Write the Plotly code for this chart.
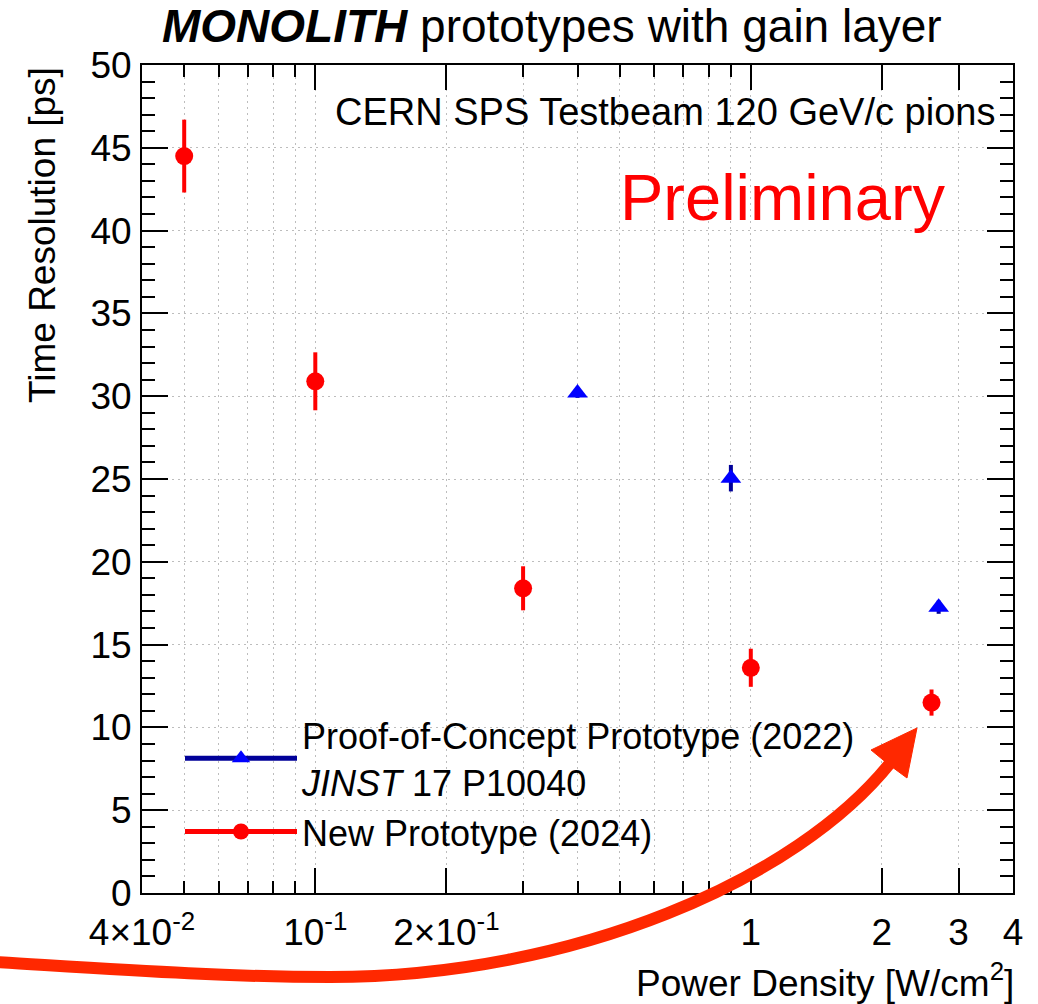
import plotly.graph_objects as go

# ---------------- data ----------------
new_x = [0.05, 0.1, 0.3, 1.0, 2.6]
new_y = [44.5, 30.9, 18.4, 13.6, 11.5]
new_err = [2.2, 1.75, 1.33, 1.15, 0.79]

poc_x = [0.4, 0.9, 2.7]
poc_y = [30.2, 25.05, 17.26]
poc_err = [0.3, 0.8, 0.4]

x_tickvals = [0.04, 0.1, 0.2, 1, 2, 3, 4]
x_ticktext = ["4×10<sup>-2</sup>", "10<sup>-1</sup>", "2×10<sup>-1</sup>", "1", "2", "3", "4"]
x_minorvals = [0.05, 0.06, 0.07, 0.08, 0.09, 0.3, 0.4, 0.5, 0.6, 0.7, 0.8, 0.9]
y_tickvals = [0, 5, 10, 15, 20, 25, 30, 35, 40, 45, 50]

FONT = "Liberation Sans, Arial, Helvetica, sans-serif"
RED = "#FF0000"
BLUE = "#0000FF"
NAVY = "#000099"
ARROW = "#FF2800"

W, H = 1038, 1004
ML, MR, MT, MB = 142, 25, 65, 111
PW, PH = W - ML - MR, H - MT - MB


def px(xp):
    return (xp - ML) / PW


def py(yp):
    return (H - MB - yp) / PH


def pt(a, b):
    return "%.5f,%.5f" % (px(a), py(b))


fig = go.Figure()

# data traces
fig.add_trace(go.Scatter(
    x=poc_x, y=poc_y, mode="markers", showlegend=False,
    marker=dict(symbol="triangle-up", size=18, color=BLUE),
    error_y=dict(type="data", array=poc_err, color=NAVY, thickness=4, width=0),
))
fig.add_trace(go.Scatter(
    x=new_x, y=new_y, mode="markers", showlegend=False,
    marker=dict(symbol="circle", size=18, color=RED),
    error_y=dict(type="data", array=new_err, color=RED, thickness=4, width=0),
))

# legend entries
fig.add_trace(go.Scatter(
    x=[None], y=[None], mode="lines+markers",
    name="Proof-of-Concept Prototype (2022)<br><i>JINST</i> 17 P10040",
    line=dict(color=NAVY, width=5),
    marker=dict(symbol="triangle-up", size=18, color=BLUE),
))
fig.add_trace(go.Scatter(
    x=[None], y=[None], mode="lines+markers",
    name="New Prototype (2024)",
    line=dict(color=RED, width=5),
    marker=dict(symbol="circle", size=18, color=RED),
))

grid = dict(showgrid=True, gridcolor="#BDBDBD", griddash="2px,4px", gridwidth=1.2)

fig.update_xaxes(
    type="log",
    range=[-1.39794, 0.60206],
    tickmode="array", tickvals=x_tickvals, ticktext=x_ticktext,
    ticks="inside", ticklen=25, tickwidth=2, tickcolor="black",
    showline=True, linecolor="black", linewidth=2, mirror="ticks",
    tickfont=dict(family=FONT, size=37, color="black"),
    ticklabelstandoff=6,
    zeroline=False,
    minor=dict(tickmode="array", tickvals=x_minorvals, ticks="inside",
               ticklen=12, tickwidth=2, tickcolor="black", **grid),
    **grid,
)
fig.update_yaxes(
    range=[0, 50],
    tickmode="array", tickvals=y_tickvals,
    ticks="inside", ticklen=26, tickwidth=2, tickcolor="black",
    showline=True, linecolor="black", linewidth=2, mirror="ticks",
    tickfont=dict(family=FONT, size=37, color="black"),
    ticklabelstandoff=1,
    zeroline=False,
    minor=dict(dtick=1, ticks="inside", ticklen=13, tickwidth=2,
               tickcolor="black", showgrid=False),
    **grid,
)

annotations = [
    dict(text="<b><i>MONOLITH</i></b> prototypes with gain layer",
         xref="paper", yref="paper", x=px(552), y=py(26),
         xanchor="center", yanchor="middle", showarrow=False,
         font=dict(family=FONT, size=46, color="black")),
    dict(text="CERN SPS Testbeam 120 GeV/c pions",
         xref="paper", yref="paper", x=px(997), y=py(112),
         xanchor="right", yanchor="middle", showarrow=False,
         font=dict(family=FONT, size=38, color="black")),
    dict(text="Preliminary",
         xref="paper", yref="paper", x=px(948), y=py(197),
         xanchor="right", yanchor="middle", showarrow=False,
         font=dict(family=FONT, size=65, color=RED)),
    dict(text="Time Resolution [ps]", textangle=-90,
         xref="paper", yref="paper", x=px(42), y=1.0,
         xanchor="center", yanchor="top", showarrow=False,
         font=dict(family=FONT, size=37, color="black")),
    dict(text="Power Density [W/cm<sup>2</sup>]",
         xref="paper", yref="paper", x=px(1016), y=py(980),
         xanchor="right", yanchor="middle", showarrow=False,
         font=dict(family=FONT, size=37, color="black")),
]

# curved highlight arrow (decoration): two smooth cubic Bezier segments
shaft = ("M " + pt(-6, 962)
         + " C " + pt(110, 969) + " " + pt(220, 977) + " " + pt(330, 977)
         + " C " + pt(575, 977) + " " + pt(798, 879) + " " + pt(891, 762))
head = "M " + " L ".join(pt(a, b) for a, b in
                         [(917, 728), (871, 750), (888, 764), (907, 778)]) + " Z"

shapes = [
    dict(type="path", path=shaft, xref="paper", yref="paper",
         line=dict(color=ARROW, width=12), layer="above"),
    dict(type="path", path=head, xref="paper", yref="paper",
         fillcolor=ARROW, line=dict(color=ARROW, width=1), layer="above"),
]

fig.update_layout(
    width=W, height=H,
    margin=dict(l=ML, r=MR, t=MT, b=MB, pad=0),
    paper_bgcolor="white", plot_bgcolor="white",
    font=dict(family=FONT, size=36, color="black"),
    showlegend=True,
    legend=dict(x=px(180), y=py(705), xanchor="left", yanchor="top",
                bgcolor="rgba(0,0,0,0)", borderwidth=0,
                font=dict(family=FONT, size=36, color="black"),
                itemwidth=112, tracegroupgap=4),
    annotations=annotations,
    shapes=shapes,
)

fig.write_html("out.html", config={"displayModeBar": False},
               post_script="document.body.style.margin='0px';")
